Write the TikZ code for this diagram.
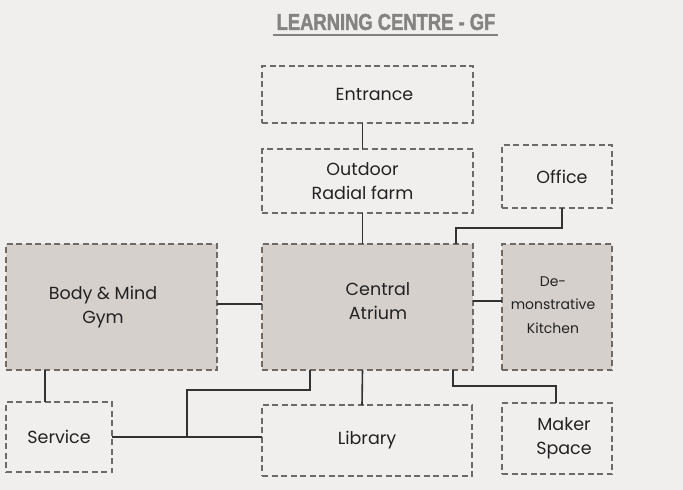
\documentclass[tikz,border=0pt]{standalone}
\usepackage{fontspec}
\setmainfont{Poppins}
\newfontfamily\titlefont[FakeStretch=0.8,FakeBold=1.5]{Liberation Sans}
\definecolor{bgc}{HTML}{F1EFEE}
\definecolor{fillc}{HTML}{D6D0CC}
\definecolor{dashc}{HTML}{6E6A68}
\definecolor{linec}{HTML}{333131}
\definecolor{titlec}{HTML}{858382}
\definecolor{txtc}{HTML}{222222}
\tikzset{
  box/.style={draw=dashc, line width=1.5pt, dash pattern=on 6pt off 3.5pt, align=center,
    text=txtc, font=\fontsize{17.5}{24}\selectfont, inner sep=0pt, outer sep=0pt},
  filled/.style={box, fill=fillc},
  lbl/.style={align=center, text=txtc, font=\fontsize{17.5}{24}\selectfont, inner sep=0pt},
  conn/.style={draw=linec, line width=1.6pt},
}
\begin{document}
\begin{tikzpicture}[x=1pt,y=-1pt]
\fill[bgc] (0,0) rectangle (683,490);
\useasboundingbox (0,0) rectangle (683,490);
\node[font=\titlefont\bfseries\fontsize{23}{26}\selectfont, text=titlec, inner sep=0pt] (title) at (386,22) {LEARNING CENTRE - GF};
\coordinate (ul1) at (273,35);
\coordinate (ul2) at (498,35);
\draw[titlec, line width=1.3pt] (ul1) -- (ul2);

\node[box, minimum width=211pt, minimum height=57pt] (ent) at (367.5,94.5) {\hspace*{14pt}Entrance};
\node[box, minimum width=211pt, minimum height=64pt] (out) at (367.5,181) {\hspace*{-10pt}Outdoor\\\hspace*{-10pt}Radial farm};
\node[box, minimum width=110pt, minimum height=63pt] (off) at (557,176.5) {\hspace{10pt}Office};
\node[filled, minimum width=211pt, minimum height=126pt] (gym) at (111.5,307) {};
\node[filled, minimum width=211pt, minimum height=126pt] (atr) at (367.5,307) {};
\node[filled, minimum width=110pt, minimum height=126pt] (kit) at (557,307) {};
\node[lbl] (gymT) at (103,307) {Body \& Mind\\Gym};
\node[lbl] (atrT) at (378,301.5) {Central\\Atrium};
\node[lbl, font=\fontsize{14}{23.5}\selectfont] (kitT) at (553,305) {De-\\monstrative\\Kitchen};
\node[box, minimum width=106pt, minimum height=70pt] (ser) at (59,437) {Service};
\node[box, minimum width=210pt, minimum height=71pt] (lib) at (367,440.5) {Library};
\node[box, minimum width=110pt, minimum height=71pt] (mak) at (557,438.5) {\parbox{80pt}{\centering\hspace*{14pt}Maker\\\hspace*{14pt}Space}};

\draw[conn] ([xshift=-5pt]ent.south) -- ([xshift=-5pt]out.north);
\draw[conn] ([xshift=-5pt]out.south) -- ([xshift=-5pt]atr.north);
\draw[conn] ([xshift=5pt]off.south) |- (456,228) -- (456,244);
\draw[conn] ([yshift=3pt]gym.east) -- ([yshift=3pt]atr.west);
\draw[conn] ([yshift=6pt]atr.east) -- ([yshift=6pt]kit.west);
\draw[conn] (45,370) -- (45,402);
\draw[conn] ([xshift=-5pt]atr.south) -- ([xshift=-5pt]lib.north);
\draw[conn] (310,370) |- (187,390) -- (187,437);
\draw[conn] (ser.east) -- (262,437);
\draw[conn] (453,370) |- (556,386) -- (556,403);
\end{tikzpicture}
\end{document}
